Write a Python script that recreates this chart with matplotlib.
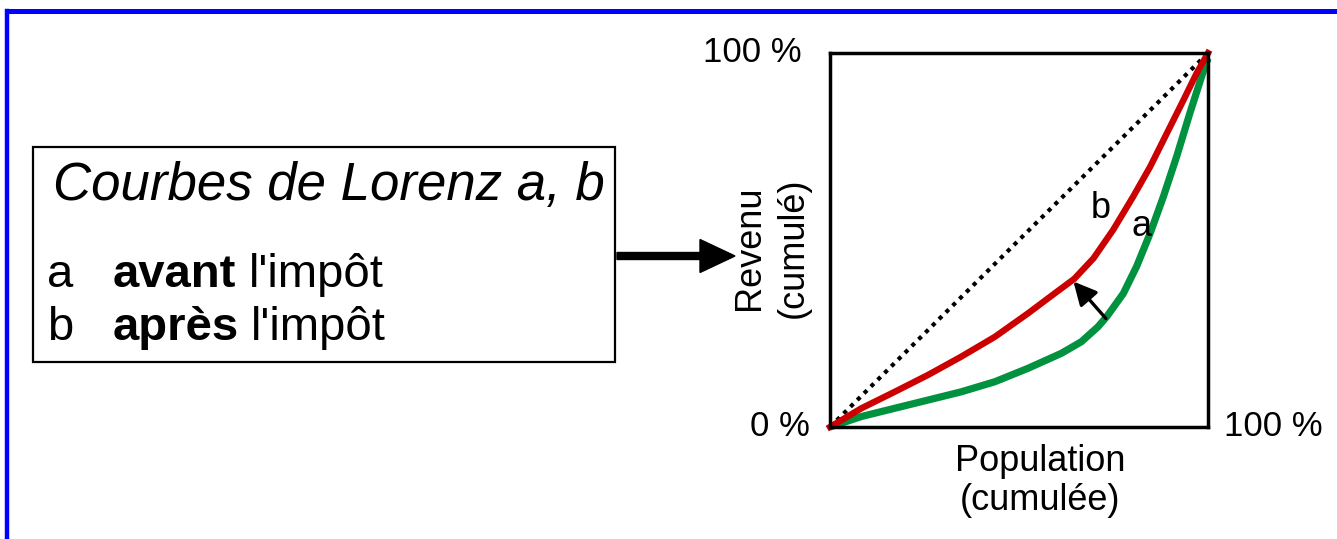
# Courbes de Lorenz avant / après l'impôt

import numpy as np
import matplotlib.pyplot as plt
from matplotlib.patches import Rectangle

plt.rcParams['font.family'] = ['Liberation Sans', 'DejaVu Sans']

# courbe a : avant l'impôt (population cumulée %, revenu cumulé %)
pop_a = [0, 8.3, 17.1, 25.9, 34.7, 43.6, 52.4, 61.2, 66.5, 70.9, 73.2, 77.6,
         81.1, 84.7, 88.2, 91.7, 95.2, 98.3, 100]
rev_a = [0, 2.8, 5.0, 7.2, 9.4, 12.1, 15.7, 19.7, 22.8, 26.8, 29.5, 35.7,
         42.9, 51.8, 61.6, 72.3, 83.9, 93.7, 98.6]

# courbe b : après l'impôt
pop_b = [0, 8.3, 17.1, 25.9, 34.7, 43.6, 52.4, 59.4, 64.6, 69.7, 74.9, 80.2,
         84.7, 89.1, 93.5, 97.0, 100]
rev_b = [0, 5.0, 9.4, 13.9, 18.8, 24.1, 30.4, 35.7, 39.6, 45.1, 52.7, 61.6,
         69.6, 78.5, 87.4, 94.6, 100]

# égalité parfaite
diag_x = [0, 100]
diag_y = [0, 100]

W, H = 1337, 539
fig = plt.figure(figsize=(W / 100, H / 100), dpi=100)

# calque de fond en pixels (cadre bleu, encadré, flèche)
bg = fig.add_axes([0, 0, 1, 1], zorder=0)
bg.set_xlim(0, W)
bg.set_ylim(H, 0)
bg.axis('off')

bg.plot([7, 7], [H, 10.5], color='#0000FF', lw=3.2, solid_capstyle='projecting')
bg.plot([7, W], [10.5, 10.5], color='#0000FF', lw=3.6, solid_capstyle='projecting')

bg.add_patch(Rectangle((33, 147), 582, 215, fill=False, lw=1.6, ec='black'))
bg.text(53, 200, 'Courbes de Lorenz a, b', size=38, style='italic', va='baseline')

renderer = fig.canvas.get_renderer()
for y, letter, word in [(287, 'a', 'avant'), (340, 'b', 'après')]:
    bg.text(47, y, letter, size=34, va='baseline')
    t = bg.text(113, y, word, size=34, weight='bold', va='baseline')
    x1 = t.get_window_extent(renderer).x1
    bg.text(x1 + 12, y, "l'impôt", size=34, va='baseline')

bg.arrow(617, 256, 118, 0, width=7, head_width=33, head_length=35,
         length_includes_head=True, fc='black', ec='black')

# graphique
ax = fig.add_axes([830 / W, 1 - 427 / H, 378 / W, 374 / H], zorder=1)
ax.set_xlim(0, 100)
ax.set_ylim(0, 100)
ax.set_xticks([])
ax.set_yticks([])
for s in ax.spines.values():
    s.set_linewidth(2.5)

ax.plot(diag_x, diag_y, color='black', lw=3, linestyle=(0, (1, 1.3)),
        dash_capstyle='butt')
ax.plot(pop_a, rev_a, color='#00923F', lw=5.2, clip_on=False,
        solid_capstyle='butt', solid_joinstyle='round')
ax.plot(pop_b, rev_b, color='#CC0000', lw=4.6, clip_on=False,
        solid_capstyle='projecting', solid_joinstyle='round')

ax.annotate('', xy=(64.4, 38.9), xytext=(73, 29),
            arrowprops=dict(arrowstyle='-|>', lw=2.4, color='black',
                            mutation_scale=35, shrinkA=0, shrinkB=0))

ax.text(71.6, 58.5, 'b', size=26, ha='center', va='center')
ax.text(82.5, 53.6, 'a', size=26, ha='center', va='center')

ax.annotate('100 %', xy=(0, 100), xytext=(-28, 0), textcoords='offset pixels',
            ha='right', va='center', size=25, annotation_clip=False)
ax.annotate('0 %', xy=(0, 0), xytext=(-20, 0), textcoords='offset pixels',
            ha='right', va='center', size=25, annotation_clip=False)
ax.annotate('100 %', xy=(100, 0), xytext=(16, 0), textcoords='offset pixels',
            ha='left', va='center', size=25, annotation_clip=False)

ax.set_xlabel('Population\n(cumulée)', size=26, labelpad=12, linespacing=1.15)
ax.xaxis.label.set_x(0.555)
ax.set_ylabel('Revenu\n(cumulé)', size=26, labelpad=14, linespacing=1.3)
ax.yaxis.label.set_y(0.48)

plt.savefig('out.png', dpi=100)
